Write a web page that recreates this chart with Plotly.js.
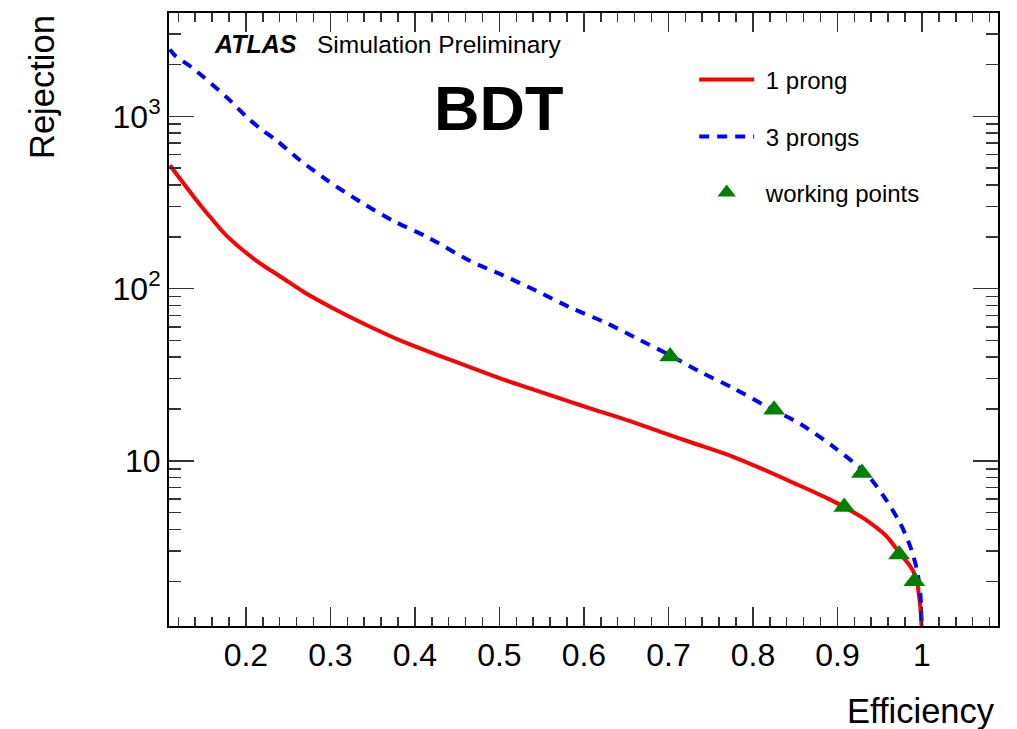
<!DOCTYPE html>
<html>
<head>
<meta charset="utf-8">
<script src="https://cdn.plot.ly/plotly-3.0.1.min.js"></script>
<style>html,body{margin:0;padding:0;background:#fff;}#chart{width:1017px;height:729px;}</style>
</head>
<body>
<div id="chart"></div>
<script>
// 1 prong curve (efficiency, rejection)
const oneProngEff = [0.110, 0.138, 0.157, 0.177, 0.213, 0.244, 0.268, 0.307, 0.347, 0.386, 0.426, 0.465, 0.505, 0.544, 0.583, 0.611, 0.650, 0.690, 0.729, 0.769, 0.808, 0.848, 0.887, 0.908, 0.932, 0.958, 0.974, 0.986, 0.994, 0.996, 0.998, 1.000];
const oneProngRej = [520, 343, 263, 203, 144.5, 114.8, 96, 75.2, 60.1, 49.2, 41.3, 35.0, 29.6, 25.6, 22.1, 19.9, 17.3, 14.8, 12.7, 10.9, 9.1, 7.45, 6.1, 5.4, 4.6, 3.65, 2.9, 2.45, 2.05, 1.72, 1.44, 1.0];
// 3 prongs curve
const threeProngEff = [0.110, 0.116, 0.138, 0.177, 0.201, 0.217, 0.236, 0.264, 0.296, 0.335, 0.374, 0.414, 0.465, 0.505, 0.544, 0.583, 0.627, 0.666, 0.702, 0.737, 0.777, 0.816, 0.856, 0.895, 0.9345, 0.954, 0.974, 0.986, 0.994, 0.998, 1.000];
const threeProngRej = [2450, 2256, 1889, 1293, 991, 849, 726, 556, 426, 320, 248, 200, 145, 119, 97, 78, 63, 50.4, 41, 33, 26.4, 20.7, 16.4, 12.1, 8.4, 6.3, 4.37, 3.2, 2.34, 1.72, 1.0];
// working points
const wpEff = [0.702, 0.825, 0.929, 0.908, 0.973, 0.991];
const wpRej = [40.3, 19.8, 8.5, 5.4, 2.86, 2.0];
// tick labels
const xTickVals = [0.2, 0.3, 0.4, 0.5, 0.6, 0.7, 0.8, 0.9, 1.0];
const xTickText = ['0.2', '0.3', '0.4', '0.5', '0.6', '0.7', '0.8', '0.9', '1'];
const yTickVals = [10, 100, 1000];
const yTickText = ['10', '10<sup>2</sup>', '10<sup>3</sup>'];
const yMinorVals = [2,3,4,5,6,7,8,9,20,30,40,50,60,70,80,90,200,300,400,500,600,700,800,900,2000,3000];
const legendNames = ['1 prong', '3 prongs', 'working points'];

const FONT = 'Liberation Sans, Arial, Helvetica, sans-serif';
const NB = '\u00A0';

const traces = [
  {x: oneProngEff, y: oneProngRej, type: 'scatter', mode: 'lines', name: NB + legendNames[0],
   line: {color: '#ff0000', width: 4, shape: 'spline', smoothing: 0.8}, legend: 'legend'},
  {x: threeProngEff, y: threeProngRej, type: 'scatter', mode: 'lines', name: NB + legendNames[1],
   line: {color: '#0000ff', width: 4, dash: '10px,8px', shape: 'spline', smoothing: 0.8}, legend: 'legend2'},
  {x: wpEff, y: wpRej, type: 'scatter', mode: 'markers', name: NB + legendNames[2],
   marker: {symbol: 'triangle-up', size: 19, color: '#008000'}, legend: 'legend3'}
];

const legBase = {xanchor: 'left', yanchor: 'middle', bgcolor: 'rgba(0,0,0,0)', borderwidth: 0,
  font: {family: FONT, size: 24, color: '#000'}, itemwidth: 55};
const legX = 0.6335;

const layout = {
  width: 1017, height: 729,
  margin: {l: 169, r: 19, t: 13, b: 103},
  paper_bgcolor: '#fff', plot_bgcolor: '#fff',
  font: {family: FONT, color: '#000'},
  showlegend: true,
  legend: Object.assign({}, legBase, {x: legX, y: 0.8907}),
  legend2: Object.assign({}, legBase, {x: legX, y: 0.7977}),
  legend3: Object.assign({}, legBase, {x: legX, y: 0.7064}),
  xaxis: {
    range: [0.109, 1.09], showgrid: false, zeroline: false,
    showline: true, linecolor: '#000', linewidth: 2, mirror: 'ticks',
    ticks: 'inside', ticklen: 19, tickwidth: 1.5, tickcolor: '#333',
    tickmode: 'array', tickvals: xTickVals, ticktext: xTickText,
    tickfont: {family: FONT, size: 32, color: '#000'},
    minor: {tickmode: 'linear', tick0: 0, dtick: 0.02, ticks: 'inside', ticklen: 9, tickwidth: 1.5, tickcolor: '#333', showgrid: false}
  },
  yaxis: {
    type: 'log', range: [Math.log10(1.1), 3.6], showgrid: false, zeroline: false,
    showline: true, linecolor: '#000', linewidth: 2, mirror: 'ticks',
    ticks: 'inside', ticklen: 25, tickwidth: 1.5, tickcolor: '#333',
    tickmode: 'array', tickvals: yTickVals, ticktext: yTickText,
    tickfont: {family: FONT, size: 32, color: '#000'},
    minor: {tickmode: 'array', tickvals: yMinorVals, ticks: 'inside', ticklen: 12, tickwidth: 1.5, tickcolor: '#333', showgrid: false}
  },
  annotations: [
    {text: 'Efficiency', xref: 'paper', yref: 'paper', x: 0.999, y: -0.138, xanchor: 'right', yanchor: 'middle',
     showarrow: false, font: {family: FONT, size: 34.5, color: '#000'}},
    {text: 'Rejection', xref: 'paper', yref: 'paper', x: -0.1532, y: 1.0, xanchor: 'center', yanchor: 'top',
     textangle: -90, showarrow: false, font: {family: FONT, size: 34.5, color: '#000'}},
    {text: '<b><i>ATLAS</i></b>', xref: 'paper', yref: 'paper', x: 0.0519, y: 0.9494, xanchor: 'left', yanchor: 'middle',
     showarrow: false, font: {family: FONT, size: 25, color: '#000'}},
    {text: 'Simulation Preliminary', xref: 'paper', yref: 'paper', x: 0.1761, y: 0.9494, xanchor: 'left', yanchor: 'middle',
     showarrow: false, font: {family: FONT, size: 24.5, color: '#000'}},
    {text: '<b>BDT</b>', xref: 'paper', yref: 'paper', x: 0.3172, y: 0.845, xanchor: 'left', yanchor: 'middle',
     showarrow: false, font: {family: FONT, size: 63, color: '#000'}}
  ]
};

Plotly.newPlot('chart', traces, layout, {staticPlot: true, displayModeBar: false});
</script>
</body>
</html>
